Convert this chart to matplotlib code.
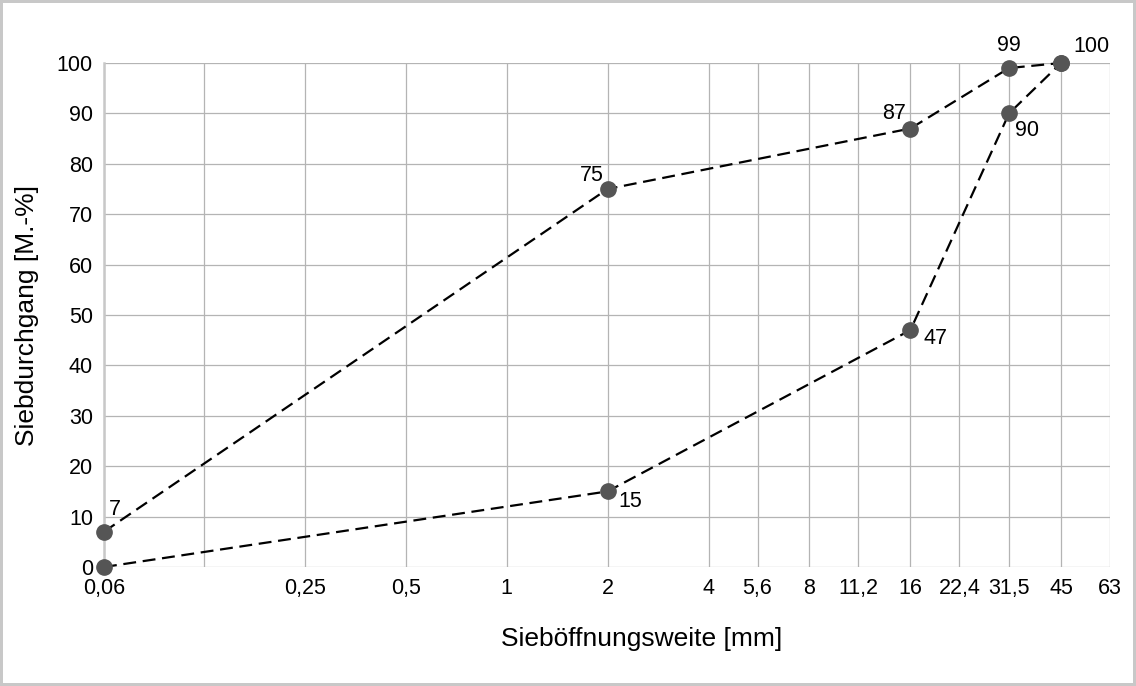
import matplotlib.pyplot as plt
from matplotlib.ticker import FixedLocator, FixedFormatter, NullLocator

# sieve sizes on the x axis (mm) and their labels
sieve_sizes = [0.063, 0.125, 0.25, 0.5, 1, 2, 4, 5.6, 8, 11.2, 16, 22.4, 31.5, 45, 63]
sieve_labels = ["0,06", "", "0,25", "0,5", "1", "2", "4", "5,6", "8", "11,2",
                "16", "22,4", "31,5", "45", "63"]

# upper and lower grading limits
upper_x = [0.063, 2, 16, 31.5, 45]
upper_y = [7, 75, 87, 99, 100]
lower_x = [0.063, 2, 16, 31.5, 45]
lower_y = [0, 15, 47, 90, 100]

# label offsets in points (dx, dy)
upper_offsets = [(8, 16), (-11, 10), (-12, 11), (0, 16), (22, 12)]
lower_offsets = [None, (16, -7), (18, -6), (13, -12), None]

plt.rcParams['font.family'] = ['Liberation Sans', 'DejaVu Sans']

fig = plt.figure(figsize=(11.36, 6.86), dpi=100)
fig.patch.set_edgecolor('#c8c8c8')
fig.patch.set_linewidth(4)
ax = fig.add_axes([104 / 1136, 1 - 567 / 686, (1110 - 104) / 1136, (567 - 63) / 686])

line_kw = dict(color='black', lw=1.6, dashes=(5.8, 3.0), marker='o', markersize=11,
               markerfacecolor='#555555', markeredgecolor='#555555', zorder=3, clip_on=False)
ax.plot(upper_x, upper_y, **line_kw)
ax.plot(lower_x, lower_y, **line_kw)

for x, y, off in zip(upper_x, upper_y, upper_offsets):
    ax.annotate(str(y), (x, y), xytext=off, textcoords='offset points',
                ha='center', va='center', fontsize=15.5)
for x, y, off in zip(lower_x, lower_y, lower_offsets):
    if off is None:
        continue
    ax.annotate(str(y), (x, y), xytext=off, textcoords='offset points',
                ha='center', va='center', fontsize=15.5)

ax.set_xscale('log')
ax.set_xlim(0.063, 63)
ax.set_ylim(0, 100)
ax.xaxis.set_major_locator(FixedLocator(sieve_sizes))
ax.xaxis.set_major_formatter(FixedFormatter(sieve_labels))
ax.xaxis.set_minor_locator(NullLocator())
ax.set_yticks(range(0, 101, 10))

ax.grid(True, color='#b4b4b4', lw=0.9)
ax.set_axisbelow(True)
for side in ['top', 'right', 'bottom']:
    ax.spines[side].set_visible(False)
ax.spines['left'].set_color('#c8c8c8')
ax.spines['left'].set_linewidth(1.8)

ax.tick_params(axis='both', length=0, labelsize=15.5)
ax.tick_params(axis='y', pad=8)
ax.tick_params(axis='x', pad=8)

ax.set_xlabel('Sieböffnungsweite [mm]', fontsize=19, labelpad=20, x=0.534)
ax.set_ylabel('Siebdurchgang [M.-%]', fontsize=19, labelpad=13)

fig.savefig('out.png', dpi=100)
